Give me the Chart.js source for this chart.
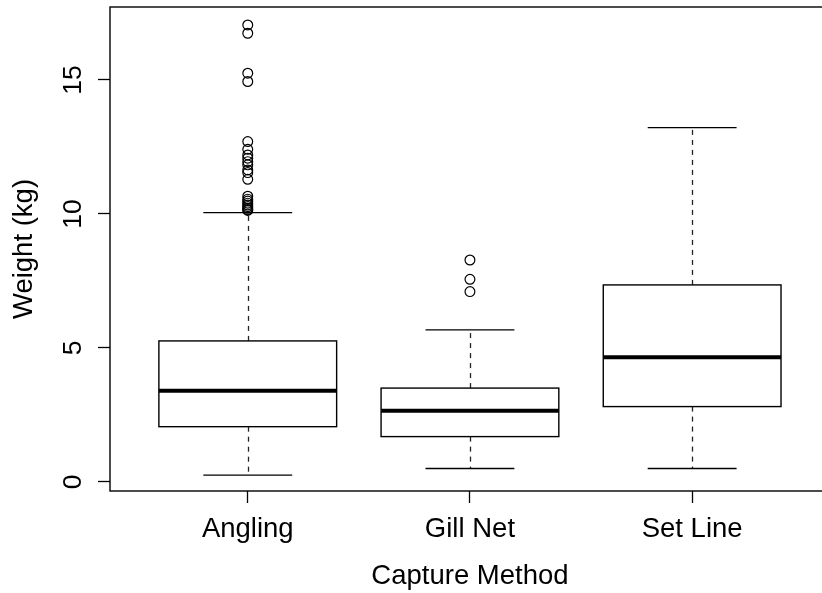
<!DOCTYPE html>
<html>
<head>
<meta charset="utf-8">
<title>Weight by capture method</title>
<script src="https://cdn.jsdelivr.net/npm/chart.js@4/dist/chart.umd.min.js"></script>
<style>
  html, body { margin: 0; padding: 0; background: #fff; overflow: hidden; }
  #wrap { width: 822px; height: 593px; overflow: hidden; }
  canvas { display: block; }
</style>
</head>
<body>
<div id="wrap"><canvas id="weightChart" width="836" height="593" style="width:836px;height:593px"></canvas></div>
<script>
'use strict';

// five-number summaries per capture method (kg)
const methods = ['Angling', 'Gill Net', 'Set Line'];
const whiskerLow = [0.25, 0.50, 0.50];
const lowerQuartile = [2.06, 1.69, 2.81];
const medians = [3.40, 2.65, 4.65];
const upperQuartile = [5.26, 3.50, 7.35];
const whiskerHigh = [10.05, 5.67, 13.22];

// points beyond the whiskers
const anglingOutliers = [17.05, 16.74, 15.25, 14.94, 12.70, 12.41, 12.20, 12.08, 11.95,
  11.83, 11.64, 11.54, 11.29, 10.66, 10.55, 10.48, 10.40, 10.33, 10.27, 10.21, 10.16, 10.13];
const gillNetOutliers = [8.28, 7.56, 7.10];
const setLineOutliers = [];

const weightTicks = [0, 5, 10, 15];

const BOX_WIDTH = 0.8;   // in category units, like boxwex
const CAP_WIDTH = 0.4;
const FONT = "'Liberation Sans', Arial, Helvetica, sans-serif";

const outlierPoints = [anglingOutliers, gillNetOutliers, setLineOutliers]
  .flatMap((vals, i) => vals.map(v => ({ x: i + 1, y: v })));

// draws whiskers, boxes, medians and the plot frame from the summaries above
const boxPlotPlugin = {
  id: 'boxPlot',
  beforeDatasetsDraw(chart) {
    const { ctx, chartArea, scales: { x, y } } = chart;
    const line = (x1, y1, x2, y2) => {
      ctx.beginPath();
      ctx.moveTo(x1, y1);
      ctx.lineTo(x2, y2);
      ctx.stroke();
    };

    ctx.save();
    ctx.strokeStyle = '#000';

    methods.forEach((name, i) => {
      const pos = i + 1;
      const mid = Math.round(x.getPixelForValue(pos)) + 0.5;
      const left = x.getPixelForValue(pos - BOX_WIDTH / 2);
      const right = x.getPixelForValue(pos + BOX_WIDTH / 2);
      const capL = x.getPixelForValue(pos - CAP_WIDTH / 2);
      const capR = x.getPixelForValue(pos + CAP_WIDTH / 2);
      const yLo = y.getPixelForValue(whiskerLow[i]);
      const yQ1 = y.getPixelForValue(lowerQuartile[i]);
      const yMed = y.getPixelForValue(medians[i]);
      const yQ3 = y.getPixelForValue(upperQuartile[i]);
      const yHi = y.getPixelForValue(whiskerHigh[i]);

      // dashed whiskers
      ctx.lineWidth = 1.3;
      ctx.strokeStyle = '#222';
      ctx.setLineDash([5, 5]);
      line(mid, yQ3, mid, yHi);
      line(mid, yQ1, mid, yLo);
      ctx.setLineDash([]);
      ctx.strokeStyle = '#000';

      // caps
      line(capL, yHi, capR, yHi);
      line(capL, yLo, capR, yLo);

      // box
      ctx.fillStyle = '#fff';
      ctx.fillRect(left, yQ3, right - left, yQ1 - yQ3);
      ctx.lineWidth = 1.4;
      ctx.strokeRect(left, yQ3, right - left, yQ1 - yQ3);

      // median
      ctx.lineWidth = 4;
      line(left, yMed, right, yMed);
    });

    ctx.lineWidth = 1.4;
    ctx.strokeRect(chartArea.left, chartArea.top, chartArea.width, chartArea.height);
    ctx.restore();
  }
};

new Chart(document.getElementById('weightChart'), {
  type: 'scatter',
  data: {
    datasets: [{
      label: 'Outliers',
      data: outlierPoints,
      pointStyle: 'circle',
      pointRadius: 4.9,
      pointHoverRadius: 4.9,
      borderWidth: 1.2,
      borderColor: '#000',
      backgroundColor: 'rgba(0,0,0,0)',
    }]
  },
  options: {
    responsive: false,
    animation: false,
    events: [],
    layout: { padding: { top: 7, right: 2, left: 0, bottom: 0 } },
    plugins: {
      legend: { display: false },
      tooltip: { enabled: false },
    },
    scales: {
      x: {
        type: 'linear',
        min: 0.38,
        max: 3.62,
        afterBuildTicks: (scale) => { scale.ticks = methods.map((_, i) => ({ value: i + 1 })); },
        afterFit: (scale) => {
          scale.height = 102;
          scale.paddingLeft = 0;
          scale.paddingRight = 0;
        },
        ticks: {
          color: '#000',
          font: { family: FONT, size: 27.5 },
          padding: 10,
          maxRotation: 0,
          autoSkip: false,
          callback: (v) => methods[v - 1],
        },
        grid: {
          drawOnChartArea: false,
          tickLength: 12,
          tickColor: '#000',
          tickWidth: 1.3,
        },
        border: { display: false },
        title: {
          display: true,
          text: 'Capture Method',
          color: '#000',
          font: { family: FONT, size: 27.5 },
          padding: { top: 0, bottom: 0 },
        },
      },
      y: {
        min: -0.34,
        max: 17.72,
        afterBuildTicks: (scale) => { scale.ticks = weightTicks.map(v => ({ value: v })); },
        afterFit: (scale) => {
          scale.width = 110;
          scale.paddingTop = 0;
          scale.paddingBottom = 0;
        },
        ticks: {
          color: '#000',
          font: { family: FONT, size: 26.5 },
          minRotation: 90,
          maxRotation: 90,
          crossAlign: 'center',
          padding: 10,
          autoSkip: false,
        },
        grid: {
          drawOnChartArea: false,
          tickLength: 12,
          tickColor: '#000',
          tickWidth: 1.3,
        },
        border: { display: false },
        title: {
          display: true,
          text: 'Weight (kg)',
          color: '#000',
          font: { family: FONT, size: 27.5 },
          padding: { top: 8, bottom: 0 },
        },
      },
    },
  },
  plugins: [boxPlotPlugin],
});
</script>
</body>
</html>
